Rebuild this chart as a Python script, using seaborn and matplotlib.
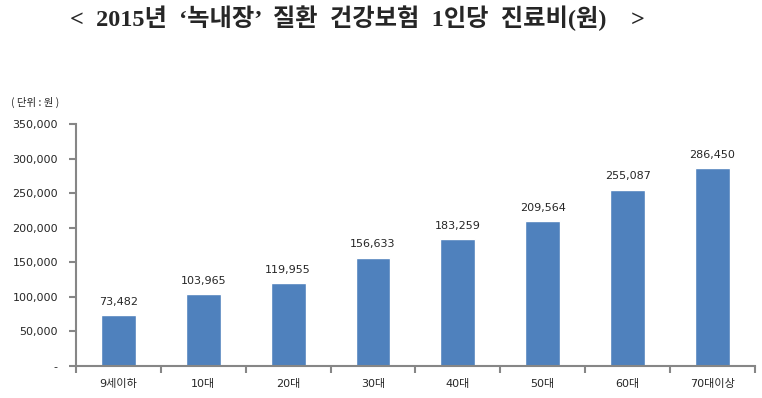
import matplotlib
matplotlib.use("Agg")
import matplotlib.pyplot as plt
import matplotlib.ticker as mticker
import seaborn as sns
import pandas as pd

categories = ["9세이하", "10대", "20대", "30대", "40대", "50대", "60대", "70대이상"]
values = [73482, 103965, 119955, 156633, 183259, 209564, 255087, 286450]
y_ticks = [0, 50000, 100000, 150000, 200000, 250000, 300000, 350000]

sns.set_style("white")
plt.rcParams["font.family"] = ["DejaVu Sans", "Noto Sans CJK KR"]

df = pd.DataFrame({"group": categories, "cost": values})

fig = plt.figure(figsize=(7.62, 3.98), dpi=100)
ax = fig.add_axes([0.0997, 0.0804, 0.891, 0.608])

sns.barplot(data=df, x="group", y="cost", color="#4F81BD", saturation=1,
            width=0.41, ax=ax)

ax.set_xlim(-0.5, len(categories) - 0.5)
ax.set_ylim(0, 350000)
ax.set_yticks(y_ticks)
ax.yaxis.set_major_formatter(mticker.FuncFormatter(
    lambda v, p: "-" if v == 0 else f"{int(v):,}"))
ax.set_xlabel("")
ax.set_ylabel("")

# tick marks between categories, labels under the bars
ax.set_xticks([i - 0.5 for i in range(len(categories) + 1)], minor=True)
ax.tick_params(axis="x", which="major", length=0, pad=9, labelsize=8)
ax.tick_params(axis="x", which="minor", length=5, width=1.5, color="#868686",
               direction="out", bottom=True)
ax.tick_params(axis="y", length=5, width=1.5, color="#868686", direction="out",
               left=True, labelsize=8, pad=8)

for side in ["top", "right"]:
    ax.spines[side].set_visible(False)
for side in ["left", "bottom"]:
    ax.spines[side].set_color("#868686")
    ax.spines[side].set_linewidth(1.5)

ax.bar_label(ax.containers[0], labels=[f"{v:,}" for v in values],
             padding=6, fontsize=8)

fig.text(0.469, 0.955, "<  2015년  ‘녹내장’  질환  건강보험  1인당  진료비(원)    >",
         ha="center", va="center", fontsize=17.5, fontweight="bold",
         family=["Liberation Serif", "Noto Sans CJK KR"])
fig.text(0.014, 0.743, "( 단위 : 원 )", ha="left", va="center", fontsize=7.5,
         family=["Noto Sans CJK KR", "DejaVu Sans"])

fig.savefig("out.png", dpi=100)
